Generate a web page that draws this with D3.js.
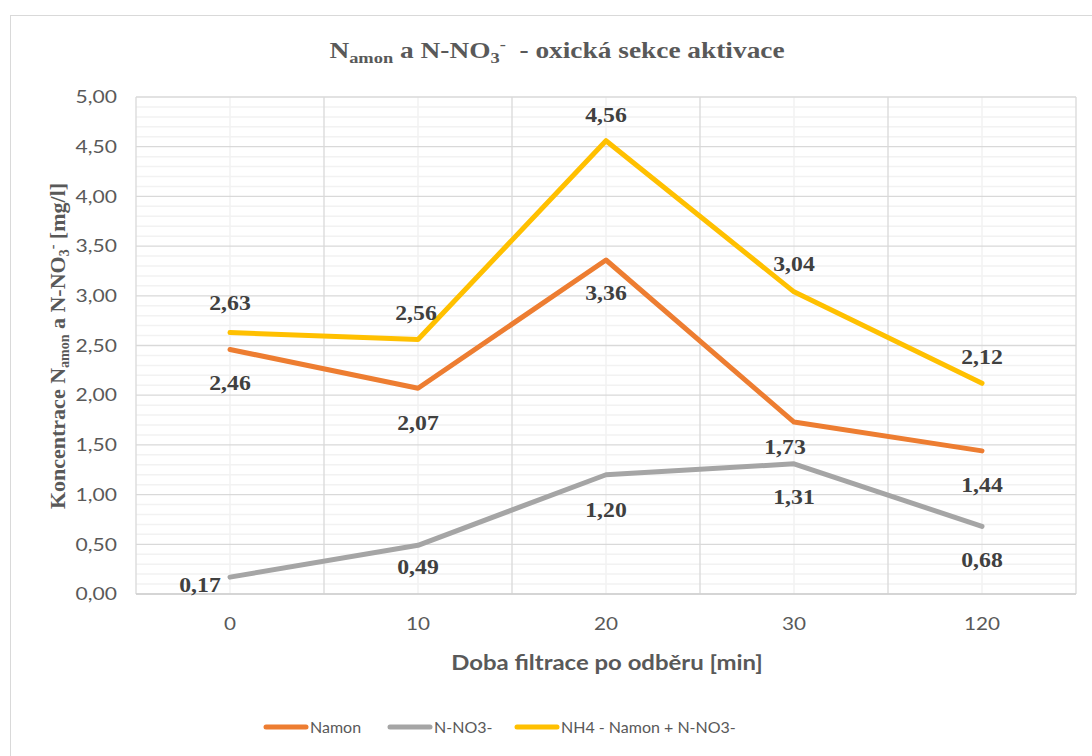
<!DOCTYPE html>
<html>
<head>
<meta charset="utf-8">
<script src="https://cdn.jsdelivr.net/npm/d3@7"></script>
<style>
  html, body { margin: 0; padding: 0; background: #fff; }
  svg { display: block; }
  text { white-space: pre; }
</style>
</head>
<body>
<svg id="chart" width="1092" height="756"></svg>
<script>
// ---- data ----
const categories = ["0", "10", "20", "30", "120"];
const namon = [2.46, 2.07, 3.36, 1.73, 1.44];
const nno3 = [0.17, 0.49, 1.20, 1.31, 0.68];
const nh4Sum = [2.63, 2.56, 4.56, 3.04, 2.12];
const seriesNames = ["Namon", "N-NO3-", "NH4 - Namon + N-NO3-"];
const yTicks = [0, 0.5, 1, 1.5, 2, 2.5, 3, 3.5, 4, 4.5, 5];

// ---- layout/style ----
const colors = ["#ED7D31", "#A5A5A5", "#FFC000"];
// label offsets (dx, dy) per series, per point (layout only)
const labelOffsets = [
  [[0, 33], [0, 34], [0, 33], [-9, 25], [0, 34]],
  [[-30, 8], [0, 21], [0, 35], [0, 33], [0, 33]],
  [[0, -30], [-2, -27], [0, -26], [0, -28], [0, -27]]
];
const SANS = "Lato, 'Open Sans', sans-serif";
const SERIF = "'Liberation Serif', 'Times New Roman', serif";

const svg = d3.select("#chart");
const pLeft = 136, pRight = 1076, pTop = 97, pBottom = 594;

const x = d3.scaleBand().domain(categories).range([pLeft, pRight]).padding(0);
const cx = c => x(c) + x.bandwidth() / 2;
const y = d3.scaleLinear().domain([0, 5]).range([pBottom, pTop]);

// outer frame
svg.append("rect").attr("x", 10.5).attr("y", 15.5).attr("width", 1200).attr("height", 800)
  .attr("fill", "#fff").attr("stroke", "#D9D9D9").attr("stroke-width", 1);

const grid = svg.append("g");
// minor horizontal gridlines
const minorY = d3.range(0, 50).map(i => i / 10).filter(v => Math.abs(v * 2 - Math.round(v * 2)) > 1e-6);
grid.selectAll(".minorH").data(minorY).enter().append("line")
  .attr("x1", pLeft).attr("x2", pRight)
  .attr("y1", d => y(d)).attr("y2", d => y(d))
  .attr("stroke", "#F2F2F2").attr("stroke-width", 1.5);
// minor vertical gridlines at category centers
grid.selectAll(".minorV").data(categories).enter().append("line")
  .attr("x1", d => cx(d)).attr("x2", d => cx(d))
  .attr("y1", pTop).attr("y2", pBottom)
  .attr("stroke", "#F2F2F2").attr("stroke-width", 1.5);
// major horizontal gridlines
grid.selectAll(".majorH").data(yTicks).enter().append("line")
  .attr("x1", pLeft).attr("x2", pRight)
  .attr("y1", d => y(d)).attr("y2", d => y(d))
  .attr("stroke", "#D9D9D9").attr("stroke-width", 1.3);
// major vertical gridlines at category boundaries
const bounds = categories.map(c => x(c)).concat([pRight]);
grid.selectAll(".majorV").data(bounds).enter().append("line")
  .attr("x1", d => d).attr("x2", d => d)
  .attr("y1", pTop).attr("y2", pBottom)
  .attr("stroke", "#D9D9D9").attr("stroke-width", 1.3);

// y axis tick labels
const yAxis = d3.axisLeft(y).tickValues(yTicks).tickSize(0).tickPadding(0)
  .tickFormat(d => d3.format(".2f")(d).replace(".", ","));
const gy = svg.append("g").attr("transform", `translate(${117},0)`).call(yAxis);
gy.select(".domain").remove();
gy.selectAll("text").attr("font-family", SANS).attr("font-size", 18)
  .attr("fill", "#595959").attr("transform", "scale(1.17,1)");

// x axis tick labels
const xAxis = d3.axisBottom(x).tickSize(0).tickPadding(0);
const gx = svg.append("g").attr("transform", `translate(0,${617})`).call(xAxis);
gx.select(".domain").remove();
gx.selectAll("text").attr("font-family", SANS).attr("font-size", 18)
  .attr("fill", "#595959").attr("transform", "scale(1.15,1)");

// bottom axis line
svg.append("line").attr("x1", pLeft).attr("x2", pRight).attr("y1", pBottom).attr("y2", pBottom)
  .attr("stroke", "#D0D0D0").attr("stroke-width", 1.5);

// lines
const allSeries = [namon, nno3, nh4Sum];
const lineGen = d3.line().x((d, i) => cx(categories[i])).y(d => y(d));
allSeries.forEach((s, si) => {
  svg.append("path").datum(s).attr("d", lineGen)
    .attr("fill", "none").attr("stroke", colors[si]).attr("stroke-width", 5)
    .attr("stroke-linejoin", "round").attr("stroke-linecap", "round");
});

// data labels
allSeries.forEach((s, si) => {
  svg.append("g").selectAll("text").data(s).enter().append("text")
    .attr("transform", (d, i) =>
      `translate(${cx(categories[i]) + labelOffsets[si][i][0]},${y(d) + labelOffsets[si][i][1]}) scale(1.13,1)`)
    .attr("dy", "0.35em")
    .attr("text-anchor", "middle")
    .attr("font-family", SERIF)
    .attr("font-weight", "bold").attr("font-size", 21).attr("fill", "#404040")
    .text(d => d3.format(".2f")(d).replace(".", ","));
});

// title
const title = svg.append("text").attr("transform", "translate(557,58) scale(1.19,1)")
  .attr("text-anchor", "middle")
  .attr("font-family", SERIF)
  .attr("font-weight", "bold").attr("font-size", 23).attr("fill", "#595959");
title.append("tspan").text("N");
title.append("tspan").attr("font-size", 15.5).attr("dy", 5).text("amon");
title.append("tspan").attr("dy", -5).text(" a N-NO");
title.append("tspan").attr("font-size", 15.5).attr("dy", 5).text("3");
title.append("tspan").attr("font-size", 15.5).attr("dy", -14).text("-");
title.append("tspan").attr("dy", 9).text("  - oxická sekce aktivace");

// y axis title
const yt = svg.append("text").attr("transform", `translate(65,${346}) rotate(-90)`)
  .attr("text-anchor", "middle")
  .attr("font-family", SERIF)
  .attr("font-weight", "bold").attr("font-size", 22).attr("fill", "#595959");
yt.append("tspan").text("Koncentrace N");
yt.append("tspan").attr("font-size", 14).attr("dy", 4).text("amon");
yt.append("tspan").attr("dy", -4).text(" a N-NO");
yt.append("tspan").attr("font-size", 14).attr("dy", 4).text("3");
yt.append("tspan").attr("font-size", 14).attr("dy", -12).text("-");
yt.append("tspan").attr("dy", 8).text(" [mg/l]");

// x axis title
svg.append("text").attr("transform", "translate(607,670) scale(1.14,1)").attr("text-anchor", "middle")
  .attr("font-family", SANS).attr("font-weight", "bold")
  .attr("font-size", 21).attr("fill", "#595959").text("Doba filtrace po odběru [min]");

// legend
const legendX = [266, 390, 517];
const lg = svg.append("g");
seriesNames.forEach((n, i) => {
  lg.append("line").attr("x1", legendX[i]).attr("x2", legendX[i] + 40)
    .attr("y1", 727).attr("y2", 727).attr("stroke", colors[i]).attr("stroke-width", 5)
    .attr("stroke-linecap", "round");
  lg.append("text").attr("x", legendX[i] + 44).attr("y", 727).attr("dy", "0.35em")
    .attr("font-family", SANS).attr("font-size", 16)
    .attr("fill", "#595959").text(n);
});
</script>
</body>
</html>
